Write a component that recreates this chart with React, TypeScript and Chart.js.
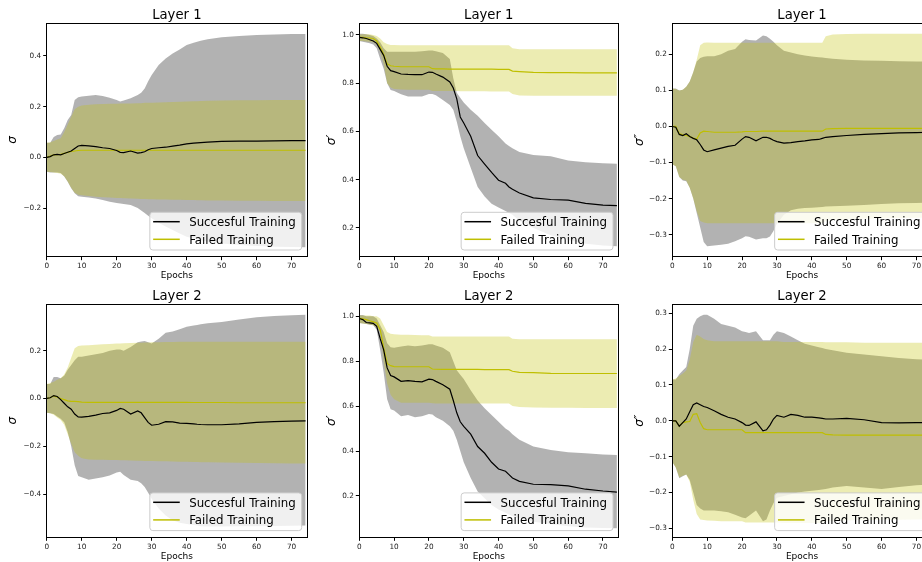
import React, { useEffect, useRef } from "react";
import { Chart, registerables } from "chart.js";

Chart.register(...registerables);

// ---------------- data ----------------
const EPOCHS = [0, 1, 2, 3, 4, 5, 6, 7, 8, 9, 10, 12, 14, 16, 18, 20, 21, 22, 24, 26, 27, 28, 29, 30, 32, 34, 36, 38, 40, 42, 43, 44, 46, 50, 55, 60, 65, 70, 74];
const X_TICKS = [0, 10, 20, 30, 40, 50, 60, 70];
const X_MAX = 74.4;
const SERIES_NAMES = ["Succesful Training", "Failed Training"];
const X_LABEL = "Epochs";

// Layer 1, sigma
const L1_S_OK_MEAN = [0.000, 0.003, 0.010, 0.012, 0.010, 0.015, 0.020, 0.025, 0.035, 0.045, 0.047, 0.045, 0.042, 0.038, 0.035, 0.027, 0.020, 0.019, 0.025, 0.017, 0.019, 0.022, 0.030, 0.035, 0.038, 0.040, 0.044, 0.048, 0.053, 0.056, 0.057, 0.058, 0.060, 0.063, 0.064, 0.064, 0.065, 0.066, 0.066];
const L1_S_OK_HI = [0.058, 0.058, 0.080, 0.088, 0.090, 0.115, 0.147, 0.167, 0.226, 0.237, 0.240, 0.243, 0.246, 0.242, 0.235, 0.226, 0.220, 0.224, 0.233, 0.246, 0.255, 0.272, 0.300, 0.325, 0.364, 0.390, 0.410, 0.426, 0.443, 0.452, 0.456, 0.460, 0.466, 0.474, 0.479, 0.483, 0.485, 0.487, 0.487];
const L1_S_OK_LO = [-0.057, -0.060, -0.060, -0.060, -0.062, -0.076, -0.096, -0.122, -0.142, -0.153, -0.155, -0.158, -0.162, -0.168, -0.175, -0.180, -0.182, -0.184, -0.188, -0.200, -0.210, -0.220, -0.230, -0.240, -0.258, -0.273, -0.287, -0.300, -0.313, -0.320, -0.323, -0.326, -0.333, -0.340, -0.346, -0.350, -0.353, -0.354, -0.355];
const L1_S_FAIL_MEAN = [0.000, 0.005, 0.010, 0.011, 0.012, 0.016, 0.020, 0.023, 0.025, 0.027, 0.028, 0.028, 0.028, 0.028, 0.028, 0.028, 0.028, 0.028, 0.028, 0.028, 0.028, 0.028, 0.028, 0.028, 0.028, 0.028, 0.028, 0.028, 0.028, 0.028, 0.028, 0.028, 0.028, 0.028, 0.028, 0.028, 0.028, 0.028, 0.028];
const L1_S_FAIL_HI = [0.058, 0.060, 0.065, 0.070, 0.075, 0.100, 0.130, 0.160, 0.190, 0.200, 0.205, 0.208, 0.210, 0.211, 0.212, 0.212, 0.213, 0.213, 0.213, 0.214, 0.214, 0.215, 0.215, 0.215, 0.216, 0.217, 0.218, 0.219, 0.220, 0.221, 0.221, 0.222, 0.223, 0.224, 0.225, 0.225, 0.226, 0.226, 0.226];
const L1_S_FAIL_LO = [-0.057, -0.058, -0.060, -0.062, -0.065, -0.075, -0.095, -0.120, -0.140, -0.148, -0.150, -0.152, -0.155, -0.157, -0.158, -0.160, -0.160, -0.161, -0.162, -0.163, -0.164, -0.164, -0.165, -0.165, -0.166, -0.166, -0.167, -0.167, -0.168, -0.168, -0.169, -0.169, -0.170, -0.170, -0.171, -0.171, -0.172, -0.172, -0.172];

// Layer 1, sigma'
const L1_S1_OK_MEAN = [0.990, 0.988, 0.985, 0.980, 0.975, 0.965, 0.940, 0.915, 0.870, 0.852, 0.848, 0.838, 0.836, 0.835, 0.835, 0.846, 0.845, 0.838, 0.825, 0.805, 0.780, 0.735, 0.660, 0.635, 0.580, 0.500, 0.465, 0.430, 0.398, 0.385, 0.370, 0.360, 0.345, 0.325, 0.318, 0.315, 0.302, 0.295, 0.293];
const L1_S1_OK_HI = [1.005, 1.005, 1.003, 1.000, 0.995, 0.985, 0.970, 0.945, 0.930, 0.930, 0.930, 0.930, 0.930, 0.930, 0.932, 0.935, 0.935, 0.932, 0.925, 0.900, 0.820, 0.760, 0.740, 0.720, 0.690, 0.665, 0.635, 0.607, 0.580, 0.550, 0.540, 0.530, 0.515, 0.502, 0.497, 0.480, 0.472, 0.468, 0.466];
const L1_S1_OK_LO = [0.975, 0.972, 0.968, 0.965, 0.960, 0.945, 0.900, 0.860, 0.800, 0.772, 0.768, 0.754, 0.745, 0.745, 0.745, 0.755, 0.755, 0.750, 0.730, 0.710, 0.690, 0.640, 0.580, 0.530, 0.450, 0.370, 0.330, 0.300, 0.285, 0.270, 0.262, 0.255, 0.230, 0.200, 0.170, 0.150, 0.135, 0.127, 0.124];
const L1_S1_FAIL_MEAN = [0.990, 0.990, 0.988, 0.987, 0.985, 0.975, 0.950, 0.920, 0.880, 0.872, 0.870, 0.868, 0.868, 0.868, 0.868, 0.868, 0.860, 0.859, 0.859, 0.858, 0.858, 0.858, 0.858, 0.858, 0.858, 0.858, 0.858, 0.858, 0.857, 0.857, 0.857, 0.850, 0.848, 0.845, 0.844, 0.844, 0.843, 0.843, 0.843];
const L1_S1_FAIL_HI = [1.002, 1.003, 1.003, 1.003, 1.000, 0.995, 0.985, 0.970, 0.962, 0.958, 0.958, 0.957, 0.957, 0.957, 0.957, 0.957, 0.957, 0.957, 0.957, 0.957, 0.957, 0.957, 0.957, 0.957, 0.957, 0.957, 0.957, 0.957, 0.957, 0.957, 0.957, 0.945, 0.941, 0.940, 0.940, 0.940, 0.940, 0.940, 0.940];
const L1_S1_FAIL_LO = [0.975, 0.975, 0.973, 0.972, 0.970, 0.960, 0.930, 0.880, 0.800, 0.782, 0.776, 0.774, 0.773, 0.773, 0.773, 0.773, 0.768, 0.767, 0.767, 0.767, 0.767, 0.767, 0.766, 0.766, 0.766, 0.766, 0.766, 0.765, 0.765, 0.765, 0.765, 0.755, 0.749, 0.748, 0.748, 0.748, 0.748, 0.748, 0.748];

// Layer 1, sigma''
const L1_S2_OK_MEAN = [0.000, -0.002, -0.022, -0.025, -0.020, -0.028, -0.033, -0.037, -0.050, -0.065, -0.070, -0.065, -0.060, -0.055, -0.052, -0.035, -0.028, -0.030, -0.040, -0.030, -0.030, -0.033, -0.038, -0.042, -0.046, -0.045, -0.042, -0.040, -0.037, -0.036, -0.033, -0.030, -0.028, -0.025, -0.022, -0.020, -0.018, -0.017, -0.016];
const L1_S2_OK_HI = [0.105, 0.105, 0.100, 0.102, 0.110, 0.125, 0.150, 0.180, 0.190, 0.193, 0.195, 0.195, 0.200, 0.210, 0.215, 0.235, 0.242, 0.240, 0.238, 0.252, 0.250, 0.243, 0.235, 0.225, 0.210, 0.205, 0.200, 0.197, 0.194, 0.192, 0.191, 0.190, 0.188, 0.185, 0.183, 0.182, 0.181, 0.180, 0.180];
const L1_S2_OK_LO = [-0.105, -0.110, -0.140, -0.150, -0.152, -0.170, -0.200, -0.240, -0.280, -0.320, -0.332, -0.330, -0.328, -0.325, -0.318, -0.310, -0.304, -0.306, -0.313, -0.310, -0.310, -0.305, -0.290, -0.270, -0.245, -0.232, -0.228, -0.226, -0.225, -0.224, -0.223, -0.222, -0.221, -0.220, -0.218, -0.215, -0.213, -0.212, -0.211];
const L1_S2_FAIL_MEAN = [0.000, 0.000, -0.020, -0.023, -0.025, -0.028, -0.032, -0.035, -0.018, -0.013, -0.014, -0.016, -0.016, -0.016, -0.016, -0.015, -0.014, -0.014, -0.014, -0.013, -0.013, -0.013, -0.013, -0.013, -0.013, -0.013, -0.013, -0.013, -0.013, -0.013, -0.013, -0.007, -0.006, -0.005, -0.005, -0.005, -0.005, -0.005, -0.005];
const L1_S2_FAIL_HI = [0.105, 0.104, 0.100, 0.102, 0.110, 0.125, 0.150, 0.185, 0.225, 0.232, 0.233, 0.232, 0.232, 0.232, 0.232, 0.232, 0.232, 0.232, 0.232, 0.232, 0.232, 0.232, 0.232, 0.232, 0.232, 0.232, 0.232, 0.232, 0.232, 0.232, 0.232, 0.250, 0.255, 0.256, 0.257, 0.257, 0.257, 0.257, 0.257];
const L1_S2_FAIL_LO = [-0.105, -0.110, -0.140, -0.148, -0.150, -0.170, -0.200, -0.235, -0.262, -0.266, -0.268, -0.268, -0.268, -0.268, -0.268, -0.268, -0.268, -0.268, -0.268, -0.268, -0.268, -0.268, -0.268, -0.268, -0.268, -0.268, -0.268, -0.268, -0.268, -0.268, -0.268, -0.262, -0.260, -0.258, -0.256, -0.255, -0.254, -0.253, -0.252];

// Layer 2, sigma
const L2_S_OK_MEAN = [0.000, 0.003, 0.012, 0.008, -0.005, -0.020, -0.035, -0.045, -0.065, -0.077, -0.078, -0.075, -0.070, -0.063, -0.060, -0.050, -0.042, -0.045, -0.065, -0.052, -0.060, -0.080, -0.100, -0.112, -0.108, -0.097, -0.098, -0.103, -0.104, -0.106, -0.108, -0.109, -0.110, -0.110, -0.106, -0.100, -0.097, -0.095, -0.094];
const L2_S_OK_HI = [0.060, 0.060, 0.090, 0.090, 0.085, 0.095, 0.120, 0.140, 0.160, 0.175, 0.175, 0.180, 0.185, 0.190, 0.200, 0.205, 0.205, 0.200, 0.215, 0.235, 0.238, 0.240, 0.235, 0.230, 0.250, 0.275, 0.280, 0.290, 0.300, 0.305, 0.307, 0.310, 0.315, 0.320, 0.330, 0.340, 0.345, 0.348, 0.350];
const L2_S_OK_LO = [-0.060, -0.062, -0.065, -0.075, -0.085, -0.100, -0.140, -0.200, -0.280, -0.325, -0.330, -0.340, -0.335, -0.330, -0.322, -0.310, -0.307, -0.320, -0.340, -0.345, -0.355, -0.370, -0.395, -0.420, -0.460, -0.490, -0.510, -0.520, -0.525, -0.530, -0.532, -0.535, -0.536, -0.536, -0.535, -0.535, -0.534, -0.533, -0.532];
const L2_S_FAIL_MEAN = [0.000, 0.003, 0.010, 0.005, 0.000, -0.005, -0.010, -0.012, -0.012, -0.013, -0.015, -0.016, -0.016, -0.016, -0.016, -0.016, -0.016, -0.016, -0.016, -0.016, -0.016, -0.016, -0.016, -0.016, -0.016, -0.016, -0.016, -0.016, -0.016, -0.017, -0.017, -0.017, -0.017, -0.017, -0.018, -0.018, -0.018, -0.018, -0.018];
const L2_S_FAIL_HI = [0.060, 0.065, 0.070, 0.078, 0.085, 0.100, 0.130, 0.170, 0.210, 0.220, 0.222, 0.223, 0.225, 0.227, 0.228, 0.230, 0.230, 0.231, 0.232, 0.233, 0.233, 0.234, 0.234, 0.235, 0.235, 0.236, 0.236, 0.237, 0.237, 0.237, 0.237, 0.237, 0.237, 0.237, 0.237, 0.237, 0.237, 0.237, 0.237];
const L2_S_FAIL_LO = [-0.060, -0.062, -0.068, -0.080, -0.090, -0.110, -0.150, -0.190, -0.225, -0.240, -0.250, -0.255, -0.256, -0.257, -0.258, -0.258, -0.259, -0.259, -0.260, -0.261, -0.261, -0.262, -0.262, -0.262, -0.263, -0.263, -0.264, -0.265, -0.265, -0.266, -0.266, -0.267, -0.267, -0.268, -0.269, -0.270, -0.271, -0.272, -0.272];

// Layer 2, sigma'
const L2_S1_OK_MEAN = [0.990, 0.985, 0.972, 0.970, 0.968, 0.955, 0.900, 0.850, 0.770, 0.736, 0.730, 0.710, 0.713, 0.710, 0.708, 0.720, 0.718, 0.710, 0.695, 0.675, 0.625, 0.570, 0.530, 0.510, 0.475, 0.420, 0.390, 0.350, 0.320, 0.310, 0.295, 0.280, 0.265, 0.252, 0.250, 0.245, 0.230, 0.222, 0.217];
const L2_S1_OK_HI = [1.005, 1.005, 1.000, 1.000, 1.000, 0.990, 0.960, 0.930, 0.880, 0.862, 0.860, 0.865, 0.870, 0.866, 0.870, 0.875, 0.875, 0.870, 0.860, 0.840, 0.800, 0.760, 0.740, 0.720, 0.670, 0.625, 0.590, 0.560, 0.530, 0.500, 0.490, 0.475, 0.450, 0.420, 0.405, 0.395, 0.390, 0.385, 0.382];
const L2_S1_OK_LO = [0.970, 0.968, 0.965, 0.962, 0.960, 0.940, 0.850, 0.750, 0.630, 0.586, 0.580, 0.555, 0.560, 0.550, 0.555, 0.565, 0.563, 0.550, 0.535, 0.510, 0.490, 0.450, 0.400, 0.350, 0.280, 0.220, 0.190, 0.160, 0.140, 0.125, 0.118, 0.110, 0.100, 0.085, 0.075, 0.065, 0.060, 0.057, 0.056];
const L2_S1_FAIL_MEAN = [0.990, 0.988, 0.985, 0.980, 0.975, 0.970, 0.940, 0.860, 0.790, 0.780, 0.776, 0.775, 0.775, 0.775, 0.775, 0.775, 0.765, 0.764, 0.763, 0.763, 0.763, 0.763, 0.763, 0.763, 0.763, 0.763, 0.762, 0.762, 0.762, 0.762, 0.762, 0.755, 0.750, 0.749, 0.746, 0.745, 0.745, 0.745, 0.745];
const L2_S1_FAIL_HI = [1.003, 1.003, 1.003, 1.003, 1.000, 1.000, 0.990, 0.960, 0.930, 0.922, 0.920, 0.918, 0.917, 0.916, 0.915, 0.915, 0.910, 0.910, 0.910, 0.910, 0.910, 0.910, 0.910, 0.910, 0.910, 0.910, 0.910, 0.910, 0.910, 0.910, 0.910, 0.900, 0.898, 0.898, 0.898, 0.898, 0.898, 0.898, 0.898];
const L2_S1_FAIL_LO = [0.970, 0.968, 0.965, 0.963, 0.960, 0.950, 0.930, 0.800, 0.700, 0.650, 0.630, 0.615, 0.615, 0.615, 0.615, 0.615, 0.613, 0.612, 0.612, 0.612, 0.612, 0.612, 0.612, 0.612, 0.612, 0.612, 0.612, 0.612, 0.612, 0.612, 0.612, 0.600, 0.596, 0.594, 0.593, 0.593, 0.592, 0.592, 0.592];

// Layer 2, sigma''
const L2_S2_OK_MEAN = [0.000, 0.000, -0.015, -0.005, 0.005, 0.025, 0.045, 0.050, 0.045, 0.040, 0.037, 0.028, 0.018, 0.010, 0.005, -0.005, -0.012, -0.013, -0.003, -0.028, -0.025, -0.012, 0.005, 0.015, 0.010, 0.018, 0.015, 0.010, 0.010, 0.008, 0.007, 0.005, 0.005, 0.007, 0.003, -0.005, -0.006, -0.005, -0.005];
const L2_S2_OK_HI = [0.115, 0.115, 0.130, 0.140, 0.150, 0.200, 0.265, 0.285, 0.292, 0.296, 0.296, 0.285, 0.270, 0.265, 0.260, 0.250, 0.248, 0.245, 0.250, 0.225, 0.225, 0.225, 0.240, 0.250, 0.245, 0.235, 0.225, 0.215, 0.210, 0.205, 0.203, 0.200, 0.197, 0.190, 0.185, 0.180, 0.175, 0.172, 0.170];
const L2_S2_OK_LO = [-0.115, -0.130, -0.160, -0.155, -0.150, -0.165, -0.200, -0.235, -0.245, -0.250, -0.250, -0.250, -0.252, -0.255, -0.262, -0.270, -0.272, -0.265, -0.250, -0.280, -0.275, -0.250, -0.230, -0.215, -0.210, -0.205, -0.200, -0.197, -0.195, -0.193, -0.192, -0.190, -0.186, -0.182, -0.186, -0.190, -0.185, -0.180, -0.178];
const L2_S2_FAIL_MEAN = [0.000, 0.000, -0.015, -0.005, -0.003, -0.002, 0.018, 0.020, -0.005, -0.022, -0.025, -0.025, -0.025, -0.025, -0.025, -0.025, -0.033, -0.033, -0.033, -0.033, -0.033, -0.033, -0.033, -0.033, -0.033, -0.033, -0.033, -0.033, -0.033, -0.033, -0.033, -0.038, -0.039, -0.040, -0.040, -0.040, -0.040, -0.040, -0.040];
const L2_S2_FAIL_HI = [0.115, 0.118, 0.125, 0.132, 0.140, 0.170, 0.220, 0.240, 0.235, 0.228, 0.225, 0.222, 0.222, 0.222, 0.222, 0.222, 0.222, 0.222, 0.222, 0.222, 0.222, 0.222, 0.222, 0.222, 0.220, 0.220, 0.220, 0.220, 0.220, 0.220, 0.220, 0.219, 0.219, 0.219, 0.218, 0.218, 0.218, 0.218, 0.218];
const L2_S2_FAIL_LO = [-0.115, -0.130, -0.158, -0.153, -0.150, -0.170, -0.220, -0.260, -0.275, -0.277, -0.278, -0.279, -0.280, -0.280, -0.280, -0.280, -0.284, -0.284, -0.284, -0.284, -0.284, -0.284, -0.284, -0.284, -0.285, -0.285, -0.285, -0.285, -0.285, -0.285, -0.285, -0.280, -0.279, -0.278, -0.277, -0.276, -0.276, -0.275, -0.275];

// axis ranges / ticks
const Y_TICKS_S_L1 = [-0.2, 0.0, 0.2, 0.4];
const Y_TICKS_S1 = [0.2, 0.4, 0.6, 0.8, 1.0];
const Y_TICKS_S2_L1 = [-0.3, -0.2, -0.1, 0.0, 0.1, 0.2];
const Y_TICKS_S_L2 = [-0.4, -0.2, 0.0, 0.2];
const Y_TICKS_S2_L2 = [-0.3, -0.2, -0.1, 0.0, 0.1, 0.2, 0.3];

type Band = { mean: number[]; hi: number[]; lo: number[] };
type PanelData = {
  title: string;
  yLabel: string;
  ok: Band;
  fail: Band;
  yMin: number;
  yMax: number;
  yTicks: number[];
};

const PANELS: PanelData[] = [
  { title: "Layer 1", yLabel: "σ", ok: { mean: L1_S_OK_MEAN, hi: L1_S_OK_HI, lo: L1_S_OK_LO }, fail: { mean: L1_S_FAIL_MEAN, hi: L1_S_FAIL_HI, lo: L1_S_FAIL_LO }, yMin: -0.392, yMax: 0.529, yTicks: Y_TICKS_S_L1 },
  { title: "Layer 1", yLabel: "σ′", ok: { mean: L1_S1_OK_MEAN, hi: L1_S1_OK_HI, lo: L1_S1_OK_LO }, fail: { mean: L1_S1_FAIL_MEAN, hi: L1_S1_FAIL_HI, lo: L1_S1_FAIL_LO }, yMin: 0.081, yMax: 1.048, yTicks: Y_TICKS_S1 },
  { title: "Layer 1", yLabel: "σ″", ok: { mean: L1_S2_OK_MEAN, hi: L1_S2_OK_HI, lo: L1_S2_OK_LO }, fail: { mean: L1_S2_FAIL_MEAN, hi: L1_S2_FAIL_HI, lo: L1_S2_FAIL_LO }, yMin: -0.361, yMax: 0.286, yTicks: Y_TICKS_S2_L1 },
  { title: "Layer 2", yLabel: "σ", ok: { mean: L2_S_OK_MEAN, hi: L2_S_OK_HI, lo: L2_S_OK_LO }, fail: { mean: L2_S_FAIL_MEAN, hi: L2_S_FAIL_HI, lo: L2_S_FAIL_LO }, yMin: -0.581, yMax: 0.394, yTicks: Y_TICKS_S_L2 },
  { title: "Layer 2", yLabel: "σ′", ok: { mean: L2_S1_OK_MEAN, hi: L2_S1_OK_HI, lo: L2_S1_OK_LO }, fail: { mean: L2_S1_FAIL_MEAN, hi: L2_S1_FAIL_HI, lo: L2_S1_FAIL_LO }, yMin: 0.016, yMax: 1.053, yTicks: Y_TICKS_S1 },
  { title: "Layer 2", yLabel: "σ″", ok: { mean: L2_S2_OK_MEAN, hi: L2_S2_OK_HI, lo: L2_S2_OK_LO }, fail: { mean: L2_S2_FAIL_MEAN, hi: L2_S2_FAIL_HI, lo: L2_S2_FAIL_LO }, yMin: -0.325, yMax: 0.325, yTicks: Y_TICKS_S2_L2 },
];

// ---------------- layout / style ----------------
const COLS = [
  { plotLeft: 46.7, plotW: 260.3, canvasLeft: 0, canvasW: 311, yTitlePad: 5.5 },
  { plotLeft: 359.3, plotW: 259.0, canvasLeft: 313, canvasW: 310, yTitlePad: 11.5 },
  { plotLeft: 672.3, plotW: 259.5, canvasLeft: 626, canvasW: 310, yTitlePad: 6.5 },
];
const ROWS = [
  { plotTop: 23.3, plotH: 233.4, canvasTop: 0, canvasH: 281 },
  { plotTop: 304.3, plotH: 233.0, canvasTop: 281, canvasH: 281 },
];

const FONT = "DejaVu Sans";
const OK_LINE = "#000000";
const FAIL_LINE = "rgb(191,191,0)";
const OK_FILL = "rgba(0,0,0,0.3)";
const FAIL_FILL = "rgba(191,191,0,0.3)";

function fmtY(v: number) {
  const s = Number(v).toFixed(1);
  return s.startsWith("-") ? "\u2212" + s.slice(1) : s;
}

function align(p: number) {
  return Math.round(p - 0.5) + 0.5;
}

function makeDecor(title: string) {
  return {
    id: "decor",
    afterDatasetsDraw(chart: any) {
      const { ctx, chartArea: a } = chart;
      ctx.save();
      ctx.strokeStyle = "#000";
      ctx.lineWidth = 1;
      const l = align(a.left), r = align(a.right), t = align(a.top), b = align(a.bottom);
      ctx.strokeRect(l, t, r - l, b - t);
      ctx.restore();
    },
    afterDraw(chart: any) {
      const { ctx, chartArea: a } = chart;
      ctx.save();
      // title
      ctx.fillStyle = "#000";
      ctx.font = `13.2px "${FONT}"`;
      ctx.textAlign = "center";
      ctx.textBaseline = "alphabetic";
      ctx.fillText(title, (a.left + a.right) / 2, a.top - 4);

      // legend
      ctx.font = `11.8px "${FONT}"`;
      const tw = Math.max(...SERIES_NAMES.map((s) => ctx.measureText(s).width));
      const boxW = 3.3 + 26.6 + 9.4 + tw + 6;
      const boxR = a.right - 5.3;
      const boxB = a.bottom - 6.7;
      const boxH = 37.7;
      const x0 = boxR - boxW, y0 = boxB - boxH;
      const rad = 3;
      ctx.beginPath();
      ctx.moveTo(x0 + rad, y0);
      ctx.lineTo(boxR - rad, y0);
      ctx.arcTo(boxR, y0, boxR, y0 + rad, rad);
      ctx.lineTo(boxR, boxB - rad);
      ctx.arcTo(boxR, boxB, boxR - rad, boxB, rad);
      ctx.lineTo(x0 + rad, boxB);
      ctx.arcTo(x0, boxB, x0, boxB - rad, rad);
      ctx.lineTo(x0, y0 + rad);
      ctx.arcTo(x0, y0, x0 + rad, y0, rad);
      ctx.closePath();
      ctx.fillStyle = "rgba(255,255,255,0.8)";
      ctx.fill();
      ctx.strokeStyle = "#cccccc";
      ctx.lineWidth = 1;
      ctx.stroke();

      const rowsY = [a.bottom - 35, a.bottom - 17.4];
      const colors = [OK_LINE, FAIL_LINE];
      SERIES_NAMES.forEach((name, i) => {
        const y = rowsY[i];
        ctx.beginPath();
        ctx.moveTo(x0 + 3.3, y);
        ctx.lineTo(x0 + 29.9, y);
        ctx.strokeStyle = colors[i];
        ctx.lineWidth = 1.5;
        ctx.stroke();
        ctx.fillStyle = "#000";
        ctx.textAlign = "left";
        ctx.textBaseline = "alphabetic";
        ctx.fillText(name, x0 + 39.3, y + 4.3);
      });
      ctx.restore();
    },
  };
}

function toXY(vals: number[]) {
  return EPOCHS.map((x, i) => ({ x, y: vals[i] }));
}

function Panel({ data, col, row }: { data: PanelData; col: typeof COLS[0]; row: typeof ROWS[0] }) {
  const ref = useRef<HTMLCanvasElement>(null);
  const yAxisW = col.plotLeft - col.canvasLeft;
  const padRight = col.canvasW - yAxisW - col.plotW;
  const padTop = row.plotTop - row.canvasTop;
  const xAxisH = row.canvasH - padTop - row.plotH;

  useEffect(() => {
    const base = { pointRadius: 0, pointHoverRadius: 0, tension: 0 };
    const chart = new Chart(ref.current as HTMLCanvasElement, {
      type: "line",
      data: {
        datasets: [
          { ...base, label: SERIES_NAMES[0], data: toXY(data.ok.mean), borderColor: OK_LINE, borderWidth: 1.2, fill: false, order: 0 },
          { ...base, label: SERIES_NAMES[1], data: toXY(data.fail.mean), borderColor: FAIL_LINE, borderWidth: 1.2, fill: false, order: 1 },
          { ...base, label: "fail-hi", data: toXY(data.fail.hi), borderColor: "rgba(0,0,0,0)", borderWidth: 0, backgroundColor: FAIL_FILL, fill: 3, order: 2 },
          { ...base, label: "fail-lo", data: toXY(data.fail.lo), borderColor: "rgba(0,0,0,0)", borderWidth: 0, fill: false, order: 3 },
          { ...base, label: "ok-hi", data: toXY(data.ok.hi), borderColor: "rgba(0,0,0,0)", borderWidth: 0, backgroundColor: OK_FILL, fill: 5, order: 4 },
          { ...base, label: "ok-lo", data: toXY(data.ok.lo), borderColor: "rgba(0,0,0,0)", borderWidth: 0, fill: false, order: 5 },
        ] as any,
      },
      options: {
        responsive: false,
        maintainAspectRatio: false,
        animation: false,
        events: [],
        layout: { padding: { top: padTop, right: padRight, left: 0, bottom: 0 } },
        plugins: {
          legend: { display: false },
          tooltip: { enabled: false },
          title: { display: false },
        },
        scales: {
          x: {
            type: "linear",
            min: 0,
            max: X_MAX,
            afterBuildTicks: (s: any) => {
              s.ticks = X_TICKS.map((v) => ({ value: v }));
            },
            afterFit: (s: any) => {
              s.height = xAxisH;
            },
            grid: { drawOnChartArea: false, drawTicks: true, tickLength: 3.5, color: "#000", lineWidth: 1 },
            border: { display: false },
            ticks: {
              font: { family: FONT, size: 7.3 },
              color: "#222",
              padding: 1.5,
              maxRotation: 0,
              autoSkip: false,
              callback: (v: any) => String(v),
            },
            title: { display: true, text: X_LABEL, font: { family: FONT, size: 9 }, color: "#000", padding: { top: 0, bottom: 0 } },
          },
          y: {
            type: "linear",
            min: data.yMin,
            max: data.yMax,
            afterBuildTicks: (s: any) => {
              s.ticks = data.yTicks.map((v) => ({ value: v }));
            },
            afterFit: (s: any) => {
              s.width = yAxisW;
            },
            grid: { drawOnChartArea: false, drawTicks: true, tickLength: 3.5, color: "#000", lineWidth: 1 },
            border: { display: false },
            ticks: {
              font: { family: FONT, size: 7.3 },
              color: "#222",
              padding: 2,
              autoSkip: false,
              callback: (v: any) => fmtY(v),
            },
            title: {
              display: true,
              text: data.yLabel,
              font: { family: FONT, size: 12, style: "italic" },
              color: "#000",
              padding: { top: col.yTitlePad, bottom: 0 },
            },
          },
        },
      } as any,
      plugins: [makeDecor(data.title)],
    });
    return () => chart.destroy();
  }, []);

  return (
    <canvas
      ref={ref}
      width={col.canvasW}
      height={row.canvasH}
      style={{ position: "absolute", left: col.canvasLeft, top: row.canvasTop, width: col.canvasW, height: row.canvasH }}
    />
  );
}

export default function App() {
  return (
    <div style={{ position: "fixed", left: 0, top: 0, width: 922, height: 562, overflow: "hidden", background: "#fff" }}>
      {PANELS.map((p, i) => (
        <Panel key={i} data={p} col={COLS[i % 3]} row={ROWS[Math.floor(i / 3)]} />
      ))}
    </div>
  );
}
